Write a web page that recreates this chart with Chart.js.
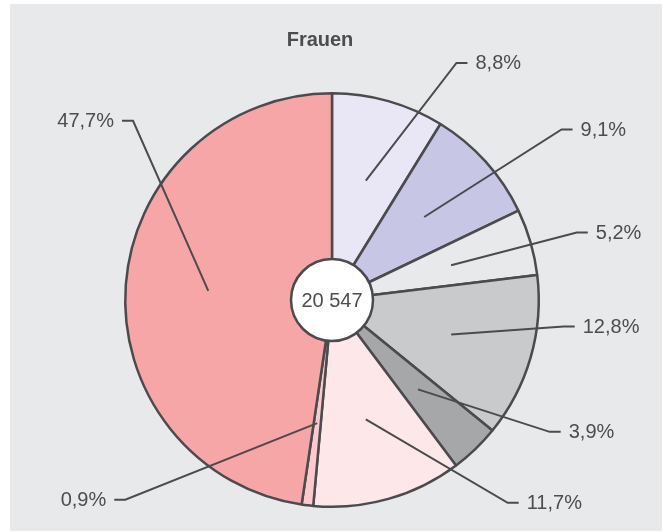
<!DOCTYPE html>
<html>
<head>
<meta charset="utf-8">
<script src="https://cdn.jsdelivr.net/npm/chart.js@4.4.1/dist/chart.umd.min.js"></script>
<style>
html, body { margin: 0; padding: 0; background: #fff; }
#chart { display: block; }
</style>
</head>
<body>
<canvas id="chart" width="667" height="532"></canvas>
<script>
// data
var title = 'Frauen';
var total = '20 547';
var labels = ['8,8%', '9,1%', '5,2%', '12,8%', '3,9%', '11,7%', '0,9%', '47,7%'];
var values = [8.8, 9.1, 5.2, 12.8, 3.9, 11.7, 0.9, 47.7];
var colors = ['#e9e7f5', '#c8c6e5', '#e8e9eb', '#c9cacc', '#a6a7a9', '#fde7e8', '#fccacc', '#f6a6a7'];

var ink = '#4b4b4d';
var textColor = '#4d4d4f';

var leaders = {
  id: 'leaders',
  beforeDraw: function(chart) {
    var ctx = chart.ctx;
    ctx.save();
    ctx.fillStyle = '#e8e9eb';
    ctx.fillRect(10, 4, 652, 527);
    ctx.restore();
  },
  afterDatasetsDraw: function(chart, args, opts) {
    var ctx = chart.ctx;
    var meta = chart.getDatasetMeta(0);
    var cx, cy;
    ctx.save();
    ctx.strokeStyle = ink;
    ctx.lineWidth = 2;
    ctx.fillStyle = textColor;
    ctx.font = '20px "Liberation Sans", Arial, sans-serif';
    ctx.textBaseline = 'middle';
    meta.data.forEach(function(arc, i) {
      var p = arc.getProps(['x', 'y', 'startAngle', 'endAngle', 'outerRadius'], true);
      cx = p.x; cy = p.y;
      var mid = (p.startAngle + p.endAngle) / 2;
      var r0 = p.outerRadius * 0.6;
      var x0 = p.x + Math.cos(mid) * r0;
      var y0 = p.y + Math.sin(mid) * r0;
      var a = opts.anchors[i];
      var t = (a[0] - 90) * Math.PI / 180;
      var x1 = p.x + Math.cos(t) * p.outerRadius * a[1];
      var y1 = p.y + Math.sin(t) * p.outerRadius * a[1];
      var side = x1 >= p.x ? 1 : -1;
      var x2 = x1 + side * opts.tick;
      ctx.beginPath();
      ctx.moveTo(x0, y0);
      ctx.lineTo(x1, y1);
      ctx.lineTo(x2, y1);
      ctx.stroke();
      ctx.textAlign = side > 0 ? 'left' : 'right';
      ctx.fillText(chart.data.labels[i], x2 + side * 8, y1 + 1);
    });

    // white circle with the total in the middle
    ctx.beginPath();
    ctx.arc(cx, cy, 41, 0, Math.PI * 2);
    ctx.fillStyle = '#ffffff';
    ctx.fill();
    ctx.lineWidth = 2.5;
    ctx.stroke();
    ctx.fillStyle = textColor;
    ctx.textAlign = 'center';
    ctx.fillText(total, cx, cy + 1);

    // title
    ctx.font = 'bold 20px "Liberation Sans", Arial, sans-serif';
    ctx.fillText(title, 320, 40);
    ctx.restore();
  }
};

var ctx = document.getElementById('chart');
var pie = new Chart(ctx, {
  type: 'pie',
  data: {
    labels: labels,
    datasets: [{
      data: values,
      backgroundColor: colors,
      borderColor: ink,
      borderWidth: 2.5
    }]
  },
  options: {
    responsive: false,
    animation: false,
    layout: { padding: { top: 92, bottom: 24, left: 124, right: 127 } },
    plugins: {
      legend: { display: false },
      tooltip: { enabled: false },
      leaders: {
        tick: 11,
        // [angle from top, clockwise, in degrees; distance as share of radius]
        anchors: [[27.7, 1.295], [53.4, 1.383], [74.6, 1.228], [96.5, 1.128],
                  [121.2, 1.231], [139.1, 1.298], [226, 1.39], [312, 1.295]]
      }
    }
  },
  plugins: [leaders]
});
</script>
</body>
</html>
